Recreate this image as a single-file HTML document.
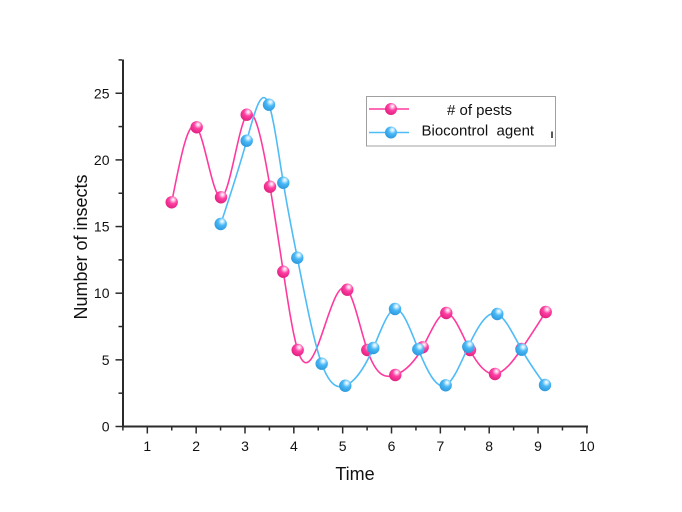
<!DOCTYPE html>
<html>
<head>
<meta charset="utf-8">
<style>
  html,body{margin:0;padding:0;background:#fff;}
  svg{display:block;}
  text{font-family:"Liberation Sans",Arial,sans-serif;fill:#111;}
</style>
</head>
<body>
<svg id="chart" width="682" height="512" viewBox="0 0 682 512" xmlns="http://www.w3.org/2000/svg">
  <defs>
    <radialGradient id="gp" cx="0.6" cy="0.32" r="0.7" fx="0.62" fy="0.28">
      <stop offset="0" stop-color="#ffffff"/>
      <stop offset="0.18" stop-color="#ffc2e2"/>
      <stop offset="0.45" stop-color="#ff3fa2"/>
      <stop offset="1" stop-color="#e0207f"/>
    </radialGradient>
    <radialGradient id="gb" cx="0.6" cy="0.32" r="0.7" fx="0.62" fy="0.28">
      <stop offset="0" stop-color="#ffffff"/>
      <stop offset="0.18" stop-color="#c4eaff"/>
      <stop offset="0.45" stop-color="#4bb9f6"/>
      <stop offset="1" stop-color="#2a98dc"/>
    </radialGradient>
  </defs>
  <rect x="0" y="0" width="682" height="512" fill="#fff"/>

  <!-- axes -->
  <g id="axes" stroke="#2b2b2b" stroke-width="2" fill="none">
    <line x1="123" y1="59.5" x2="123" y2="427.5"/>
    <line x1="122" y1="426.5" x2="588" y2="426.5"/>
  </g>
  <g id="ticks" stroke="#2b2b2b" stroke-width="1.5"></g>
  <g id="ticklabels" font-size="14"></g>

  <text x="355" y="480" font-size="18" text-anchor="middle">Time</text>
  <text transform="translate(87,247) rotate(-90)" font-size="18" text-anchor="middle">Number of insects</text>

  <!-- series -->
  <path id="pinkLine" fill="none" stroke="#ff3a9f" stroke-width="1.6"
        d="M171.7,202.3 L196.7,127.3 L221,197.3 L246.7,114.7 L270,186.7 L283.3,271.7 L297.7,350 L347.3,289.7 L367.3,350 L395.3,375 L422.7,347.3 L446.3,313 L470,350 L495,374 L521.5,349 L545.7,312"/>
  <g id="pinkMarks"></g>
  <path id="blueLine" fill="none" stroke="#4fbcf7" stroke-width="1.6"
        d="M220.7,224 L246.7,140.7 L269,104.7 L283.3,182.7 L297.3,257.7 L321.7,363.7 L345.3,385.7 L373.3,348 L395,309 L418.3,349.3 L445.7,385.3 L468.3,346.7 L497.3,314 L521.7,349.7 L545,385"/>
  <g id="blueMarks"></g>

  <!-- legend -->
  <rect x="366.5" y="96.5" width="189" height="49.5" fill="#fff" stroke="#a0a0a0" stroke-width="1"/>
  <line x1="369" y1="109" x2="409" y2="109" stroke="#ff3a9f" stroke-width="1.6"/>
  <circle cx="391" cy="109" r="6" fill="url(#gp)"/>
  <line x1="369" y1="132.5" x2="409" y2="132.5" stroke="#4fbcf7" stroke-width="1.6"/>
  <circle cx="391" cy="132.5" r="6" fill="url(#gb)"/>
  <text x="447" y="115" font-size="15">&#35; of pests</text>
  <text x="421.5" y="135.5" font-size="15" style="white-space:pre" xml:space="preserve">Biocontrol  agent</text>
  <line x1="552" y1="131.5" x2="552" y2="138" stroke="#222" stroke-width="1.5"/>
</svg>

<script>
(function(){
  var NS="http://www.w3.org/2000/svg";
  function X(v){return 122.9+(v-0.5)*48.84;}
  function Y(v){return 426.5-v*13.33;}
  var ticks=document.getElementById("ticks");
  var labels=document.getElementById("ticklabels");
  function line(x1,y1,x2,y2){var l=document.createElementNS(NS,"line");
    l.setAttribute("x1",x1);l.setAttribute("y1",y1);l.setAttribute("x2",x2);l.setAttribute("y2",y2);ticks.appendChild(l);}
  function text(x,y,s,anchor){var t=document.createElementNS(NS,"text");
    t.setAttribute("x",x);t.setAttribute("y",y);t.setAttribute("text-anchor",anchor);t.textContent=s;labels.appendChild(t);}
  // x ticks
  for(var v=1;v<=10;v++){var x=X(v);line(x,427,x,433.5);text(x,451,String(v),"middle");}
  for(var v=0.5;v<10;v+=1){var x=X(v);line(x,427,x,430.5);}
  // y ticks
  for(var v=0;v<=25;v+=5){var y=Y(v);line(122,y,115.5,y);text(109.5,y+5,String(v),"end");}
  for(var v=2.5;v<=27.5;v+=5){var y=Y(v);line(122,y,118.5,y);}

  var pink=[[171.7,202.3],[196.7,127.3],[221,197.3],[246.7,114.7],[270,186.7],[283.3,271.7],[297.7,350],[347.3,289.7],[367.3,350],[395.3,375],[422.7,347.3],[446.3,313],[470,350],[495,374],[521.5,349],[545.7,312]];
  var blue=[[220.7,224],[246.7,140.7],[269,104.7],[283.3,182.7],[297.3,257.7],[321.7,363.7],[345.3,385.7],[373.3,348],[395,309],[418.3,349.3],[445.7,385.3],[468.3,346.7],[497.3,314],[521.7,349.7],[545,385]];

  function splinePath(p){
    var n=p.length,i;
    var x=p.map(function(a){return a[0];}),y=p.map(function(a){return a[1];});
    var h=[];for(i=0;i<n-1;i++)h.push(x[i+1]-x[i]);
    // natural spline: solve for M
    var a=new Array(n).fill(0),b=new Array(n).fill(0),c=new Array(n).fill(0),d=new Array(n).fill(0);
    b[0]=1;b[n-1]=1;
    for(i=1;i<n-1;i++){a[i]=h[i-1];b[i]=2*(h[i-1]+h[i]);c[i]=h[i];
      d[i]=6*((y[i+1]-y[i])/h[i]-(y[i]-y[i-1])/h[i-1]);}
    // thomas
    var cp=new Array(n).fill(0),dp=new Array(n).fill(0);
    cp[0]=c[0]/b[0];dp[0]=d[0]/b[0];
    for(i=1;i<n;i++){var m=b[i]-a[i]*cp[i-1];cp[i]=c[i]/m;dp[i]=(d[i]-a[i]*dp[i-1])/m;}
    var M=new Array(n).fill(0);M[n-1]=dp[n-1];
    for(i=n-2;i>=0;i--)M[i]=dp[i]-cp[i]*M[i+1];
    var s="M"+x[0].toFixed(2)+","+y[0].toFixed(2);
    for(i=0;i<n-1;i++){
      var hh=h[i],sl=(y[i+1]-y[i])/hh;
      var d0=sl-hh*(2*M[i]+M[i+1])/6;
      var d1=sl+hh*(M[i]+2*M[i+1])/6;
      s+=" C"+(x[i]+hh/3).toFixed(2)+","+(y[i]+d0*hh/3).toFixed(2)+" "+
         (x[i+1]-hh/3).toFixed(2)+","+(y[i+1]-d1*hh/3).toFixed(2)+" "+
         x[i+1].toFixed(2)+","+y[i+1].toFixed(2);
    }
    return s;
  }
  try{
    document.getElementById("pinkLine").setAttribute("d",splinePath(pink));
    document.getElementById("blueLine").setAttribute("d",splinePath(blue));
  }catch(e){}
  function marks(id,pts,grad){
    var g=document.getElementById(id);
    pts.forEach(function(p){var c=document.createElementNS(NS,"circle");
      c.setAttribute("cx",p[0]);c.setAttribute("cy",p[1]);c.setAttribute("r","6.2");
      c.setAttribute("fill","url(#"+grad+")");g.appendChild(c);});
  }
  marks("pinkMarks",pink,"gp");
  marks("blueMarks",blue,"gb");
})();
</script>
</body>
</html>
